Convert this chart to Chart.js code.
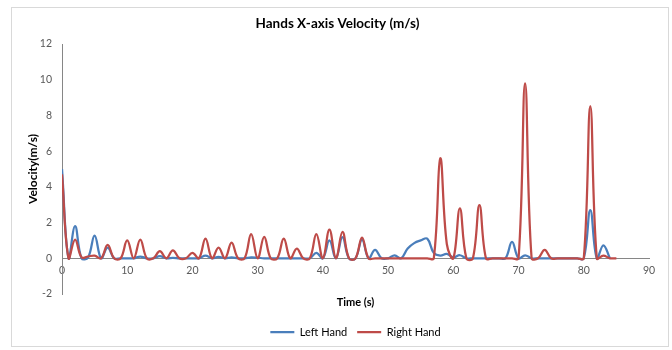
<!DOCTYPE html>
<html>
<head>
<meta charset="utf-8">
<title>Hands X-axis Velocity</title>
<script src="https://cdn.jsdelivr.net/npm/chart.js@4.4.1/dist/chart.umd.min.js"></script>
<style>
  html, body { margin: 0; padding: 0; background: #fff; }
  #wrap { position: relative; width: 672px; height: 350px; }
  #frame {
    position: absolute; left: 11px; top: 7px; width: 656px; height: 338px;
    border: 1px solid #d9d9d9; pointer-events: none;
  }
</style>
</head>
<body>
<div id="wrap">
  <canvas id="velocityChart"></canvas>
  <div id="frame"></div>
</div>
<script>
/* ================= DATA ================= */
// one sample per second
const time = [
  0, 1, 2, 3, 4, 5, 6, 7, 8, 9, 10, 11, 12, 13, 14, 15, 16, 17, 18, 19,
  20, 21, 22, 23, 24, 25, 26, 27, 28, 29, 30, 31, 32, 33, 34, 35, 36, 37, 38, 39,
  40, 41, 42, 43, 44, 45, 46, 47, 48, 49, 50, 51, 52, 53, 54, 55, 56, 57, 58, 59,
  60, 61, 62, 63, 64, 65, 66, 67, 68, 69, 70, 71, 72, 73, 74, 75, 76, 77, 78, 79,
  80, 81, 82, 83, 84, 85
];

// m/s, left hand stops at 84 s
const leftHand = [
  5.0, 0, 1.8, 0, 0.05, 1.27, 0, 0.6, 0, 0, 0, 0, 0.1, 0, 0, 0.12, 0, 0.03, 0, 0,
  0, 0, 0.15, 0, 0.08, 0, 0.05, 0, 0, 0.05, 0.03, 0, 0, 0, 0, 0, 0, 0, 0, 0.3,
  0, 1.0, 0, 1.18, 0, 0, 1.05, 0, 0.47, 0, 0, 0.17, 0, 0.55, 0.85, 1.0, 1.1, 0.3, 0.15, 0.25,
  0.05, 0.17, 0, 0, 0, 0, 0, 0, 0, 0.92, 0, 0.17, 0, 0, 0, 0, 0, 0, 0, 0,
  0, 2.69, 0, 0.73, 0
];

const rightHand = [
  4.7, 0, 1.05, 0.05, 0.1, 0.15, 0, 0.75, 0, 0, 1.0, 0, 1.05, 0, 0, 0.4, 0, 0.45, 0, 0,
  0.3, 0, 1.1, 0, 0.6, 0, 0.88, 0, 0, 1.35, 0, 1.2, 0, 0, 1.1, 0, 0.54, 0, 0, 1.35,
  0, 1.6, 0, 1.48, 0, 0, 1.16, 0, 0, 0, 0, 0, 0, 0, 0, 0, 0, 0, 5.6, 0.8,
  0, 2.79, 0, 0, 2.97, 0, 0, 0, 0, 0, 0, 9.8, 0, 0, 0.47, 0, 0, 0, 0, 0,
  0, 8.52, 0, 0.15, 0, 0
];

const xTicks = [0, 10, 20, 30, 40, 50, 60, 70, 80, 90];
const yTicks = [-2, 0, 2, 4, 6, 8, 10, 12];

/* ================= HELPERS ================= */
const FONT = "Lato, 'Liberation Sans', sans-serif";
Chart.defaults.font.family = FONT;

const toPoints = values => values.map((v, i) => ({ x: time[i], y: v }));

const xRange = {
  min: xTicks[0],
  max: xTicks[xTicks.length - 1],
  step: xTicks[1] - xTicks[0]
};
const yRange = {
  min: yTicks[0],
  max: yTicks[yTicks.length - 1],
  step: yTicks[1] - yTicks[0]
};

/* ================= CHART ================= */
new Chart(document.getElementById("velocityChart"), {
  type: "line",
  data: {
    datasets: [
      {
        label: "Left Hand",
        data: toPoints(leftHand),
        borderColor: "#4a7ebb",
        backgroundColor: "#4a7ebb",
        borderWidth: 2.25,
        pointRadius: 0,
        tension: 0.4,
        order: 1
      },
      {
        label: "Right Hand",
        data: toPoints(rightHand),
        borderColor: "#be4b48",
        backgroundColor: "#be4b48",
        borderWidth: 2.25,
        pointRadius: 0,
        tension: 0.4,
        order: 0 // right hand drawn on top
      }
    ]
  },
  options: {
    responsive: true,
    maintainAspectRatio: false,
    animation: false,
    layout: { padding: { left: 26, right: 23, top: 0, bottom: 2.4 } },
    plugins: {
      title: {
        display: true,
        text: "Hands X-axis Velocity (m/s)",
        color: "#000",
        font: { size: 13.5, weight: "bold" },
        padding: { top: 16, bottom: 11.8 }
      },
      legend: {
        position: "bottom",
        fullSize: false,
        reverse: true,
        labels: {
          usePointStyle: true,
          pointStyle: "line",
          pointStyleWidth: 24,
          color: "#000",
          font: { size: 11 },
          padding: 10
        }
      },
      tooltip: { enabled: false }
    },
    scales: {
      // value axis crossing at y = 0
      x: {
        type: "linear",
        position: { y: 0 },
        min: xRange.min,
        max: xRange.max,
        ticks: { stepSize: xRange.step, color: "#595959", padding: 6, font: { size: 10.5 } },
        grid: { display: false, drawTicks: false },
        border: { color: "#868686", width: 1 },
        afterFit: s => { s.height = 0; }
      },
      // only carries the axis title under the plot
      xTitle: {
        type: "linear",
        axis: "x",
        position: "bottom",
        min: xRange.min,
        max: xRange.max,
        ticks: { display: false },
        grid: { display: false, drawTicks: false },
        border: { display: false },
        title: {
          display: true,
          text: "Time (s)",
          color: "#000",
          font: { size: 11, weight: "bold" },
          padding: { top: 1.4, bottom: 8 }
        }
      },
      y: {
        min: yRange.min,
        max: yRange.max,
        ticks: { stepSize: yRange.step, color: "#595959", padding: 10, font: { size: 10.5 } },
        grid: { display: false, drawTicks: false },
        border: { color: "#868686", width: 1 },
        title: {
          display: true,
          text: "Velocity(m/s)",
          color: "#000",
          font: { size: 12, weight: "bold" },
          padding: 0
        },
        afterFit: s => { s.width = 36; }
      }
    }
  }
});
</script>
</body>
</html>
